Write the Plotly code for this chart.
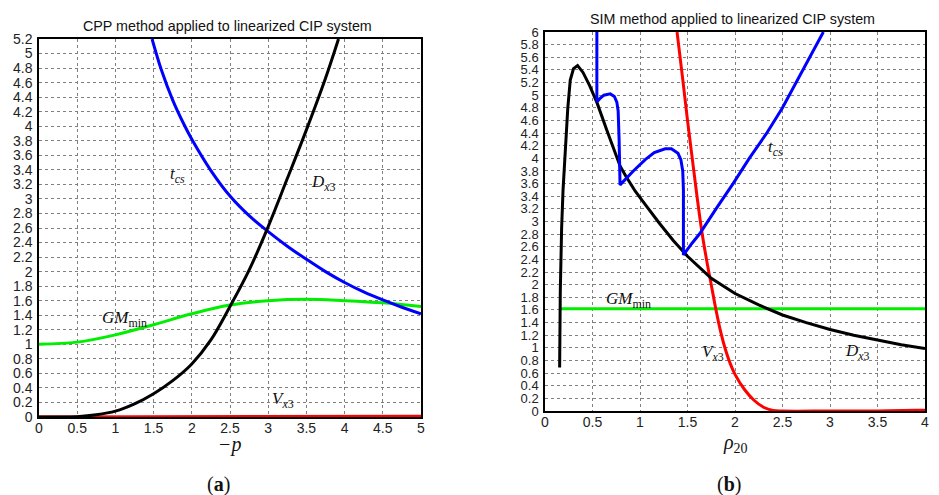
import plotly.graph_objects as go

# ---------------- Panel (a): CPP method ----------------
a_tcs_x = [1.48, 1.6, 1.75, 1.9, 2.0, 2.25, 2.5, 2.75, 3.0, 3.25, 3.5, 3.75, 4.0, 4.25, 4.5, 4.75, 5.0]
a_tcs_y = [5.2, 4.78, 4.36, 4.02, 3.82, 3.39, 3.04, 2.77, 2.55, 2.35, 2.17, 2.0, 1.85, 1.72, 1.61, 1.51, 1.42]

a_dx3_x = [0, 0.25, 0.5, 0.75, 1.0, 1.25, 1.5, 1.75, 2.0, 2.25, 2.5, 2.75, 3.0, 3.25, 3.5, 3.75, 3.92]
a_dx3_y = [0, 0, 0.005, 0.03, 0.08, 0.18, 0.32, 0.5, 0.73, 1.06, 1.52, 2.02, 2.62, 3.28, 3.95, 4.66, 5.2]

a_gm_x = [0, 0.5, 1.0, 1.5, 2.0, 2.5, 3.0, 3.5, 4.0, 4.5, 5.0]
a_gm_y = [1.0, 1.03, 1.13, 1.27, 1.42, 1.54, 1.60, 1.62, 1.60, 1.57, 1.52]

a_vx3_x = [0, 1.0, 2.0, 2.5, 3.0, 3.5, 4.0, 4.5, 5.0]
a_vx3_y = [0, 0, 0.005, 0.01, 0.005, 0.01, 0.008, 0.005, 0.01]

# ---------------- Panel (b): SIM method ----------------
b_tcs_x = [0.546, 0.546, 0.58, 0.62, 0.687, 0.73, 0.756, 0.77, 0.78, 0.785, 0.79, 0.93, 1.055, 1.15, 1.265,
           1.33, 1.4, 1.43, 1.45, 1.457, 1.457, 1.55, 1.63, 1.8, 1.98, 2.15, 2.33, 2.5, 2.69, 2.93]
b_tcs_y = [6.0, 4.89, 4.95, 5.0, 5.02, 4.98, 4.89, 4.75, 4.3, 3.6, 3.58, 3.8, 3.98, 4.09, 4.15,
           4.15, 4.08, 3.98, 3.8, 3.5, 2.47, 2.66, 2.81, 3.2, 3.6, 4.0, 4.39, 4.8, 5.32, 6.0]

b_dx3_x = [0.154, 0.161, 0.175, 0.19, 0.213, 0.24, 0.266, 0.30, 0.343, 0.40, 0.47, 0.55, 0.65, 0.72, 0.79,
           0.85, 0.95, 1.05, 1.2, 1.35, 1.5, 1.75, 2.0, 2.25, 2.5, 2.75, 3.0, 3.25, 3.5, 3.75, 4.0]
b_dx3_y = [0.69, 1.9, 2.9, 3.5, 4.1, 4.8, 5.24, 5.42, 5.47, 5.36, 5.15, 4.87, 4.45, 4.15, 3.88,
           3.72, 3.48, 3.28, 2.98, 2.7, 2.45, 2.1, 1.86, 1.68, 1.52, 1.4, 1.29, 1.2, 1.12, 1.05, 0.99]

b_vx3_x = [1.39, 1.45, 1.5, 1.55, 1.6, 1.65, 1.7, 1.75, 1.8, 1.85, 1.9, 1.95, 2.0, 2.1, 2.2, 2.3, 2.4, 2.5, 3.0, 3.5, 3.9, 4.0]
b_vx3_y = [6.0, 5.25, 4.6, 4.0, 3.4, 2.85, 2.4, 2.0, 1.6, 1.25, 0.97, 0.75, 0.58, 0.34, 0.17, 0.06, 0.01, 0.0, 0.0, 0.0, 0.01, 0.01]

b_gm_x = [0.16, 4.0]
b_gm_y = [1.62, 1.62]

a_yticks = [round(i * 0.2, 1) for i in range(27)]
b_yticks = [round(i * 0.2, 1) for i in range(31)]
a_xticks = [0, 0.5, 1, 1.5, 2, 2.5, 3, 3.5, 4, 4.5, 5]
b_xticks = [0, 0.5, 1, 1.5, 2, 2.5, 3, 3.5, 4]


def fmt(v):
    s = ("%.1f" % v)
    if s.endswith(".0"):
        s = s[:-2]
    return s


W, H = 939, 495
fig = go.Figure()

LW = 3
def add(x, y, color, xa, ya, shape="linear"):
    fig.add_trace(go.Scatter(x=x, y=y, mode="lines", line=dict(color=color, width=LW, shape=shape),
                             xaxis=xa, yaxis=ya, showlegend=False, hoverinfo="skip"))

add(a_vx3_x, a_vx3_y, "#ff0000", "x", "y")
add(a_gm_x, a_gm_y, "#00ee00", "x", "y", "spline")
add(a_tcs_x, a_tcs_y, "#0000ff", "x", "y", "spline")
add(a_dx3_x, a_dx3_y, "#000000", "x", "y", "spline")

add(b_gm_x, b_gm_y, "#00ee00", "x2", "y2")
add(b_vx3_x, b_vx3_y, "#ff0000", "x2", "y2", "spline")
add(b_dx3_x, b_dx3_y, "#000000", "x2", "y2")
add(b_tcs_x, b_tcs_y, "#0000ff", "x2", "y2")

sans = "Liberation Sans, Arial, sans-serif"
serif = "Liberation Serif, Times New Roman, serif"
tickfont = dict(family=sans, size=14, color="#222")
tickfont_b = dict(family=sans, size=13, color="#222")
axis_common = dict(showline=True, linecolor="#000", linewidth=1.5, mirror=True,
                   showgrid=True, gridcolor="#808080", griddash="dot", gridwidth=1,
                   zeroline=False, ticks="", fixedrange=True, automargin=False)

fig.update_layout(
    width=W, height=H, margin=dict(l=0, r=0, t=0, b=0, pad=0, autoexpand=False),
    paper_bgcolor="white", plot_bgcolor="white",
    xaxis=dict(domain=[39 / W, 421 / W], range=[0, 5], anchor="y", tickfont=tickfont,
               tickvals=a_xticks, ticktext=[fmt(v) for v in a_xticks], ticklabelstandoff=-3, **axis_common),
    yaxis=dict(domain=[(H - 417) / H, (H - 39) / H], range=[0, 5.2], anchor="x", tickfont=tickfont,
               tickvals=a_yticks, ticktext=[fmt(v) for v in a_yticks], ticklabelstandoff=2, **axis_common),
    xaxis2=dict(domain=[545 / W, 925 / W], range=[0, 4], anchor="y2", tickfont=tickfont,
                tickvals=b_xticks, ticktext=[fmt(v) for v in b_xticks], ticklabelstandoff=-3, **axis_common),
    yaxis2=dict(domain=[(H - 411) / H, (H - 32) / H], range=[0, 6], anchor="x2", tickfont=tickfont_b,
                tickvals=b_yticks, ticktext=[fmt(v) for v in b_yticks], ticklabelstandoff=2, **axis_common),
)

def pann(text, x, y, size, family, xanchor="center"):
    fig.add_annotation(text=text, x=x / W, y=(H - y) / H, xref="paper", yref="paper",
                       showarrow=False, xanchor=xanchor, yanchor="middle",
                       font=dict(family=family, size=size, color="#111"))

pann("CPP method applied to linearized CIP system", 227, 26, 14.3, sans)
pann("SIM method applied to linearized CIP system", 732, 19, 14.3, sans)
pann("<i>−p</i>", 230, 444, 20, serif)
pann("<i>ρ</i><sub>20</sub>", 735, 443, 20, serif)
pann("(<b>a</b>)", 218, 484, 20, serif)
pann("(<b>b</b>)", 729, 484, 20, serif)

def dann(text, x, y, xr, yr):
    fig.add_annotation(text=text, x=x, y=y, xref=xr, yref=yr, showarrow=False,
                       xanchor="left", yanchor="middle",
                       font=dict(family=serif, size=17, color="#111"))

dann("<i>t</i><sub><i>cs</i></sub>", 1.69, 3.33, "x", "y")
dann("<i>D</i><sub><i>x</i>3</sub>", 3.53, 3.22, "x", "y")
dann("<i>GM</i><sub>min</sub>", 0.80, 1.35, "x", "y")
dann("<i>V</i><sub><i>x</i>3</sub>", 3.03, 0.23, "x", "y")

dann("<i>t</i><sub><i>cs</i></sub>", 2.33, 4.16, "x2", "y2")
dann("<i>GM</i><sub>min</sub>", 0.62, 1.75, "x2", "y2")
dann("<i>V</i><sub><i>x</i>3</sub>", 1.63, 0.92, "x2", "y2")
dann("<i>D</i><sub><i>x</i>3</sub>", 3.14, 0.93, "x2", "y2")

fig.write_html("out.html", config={"displayModeBar": False},
               post_script="document.body.style.margin='0';document.body.style.overflow='hidden';")
